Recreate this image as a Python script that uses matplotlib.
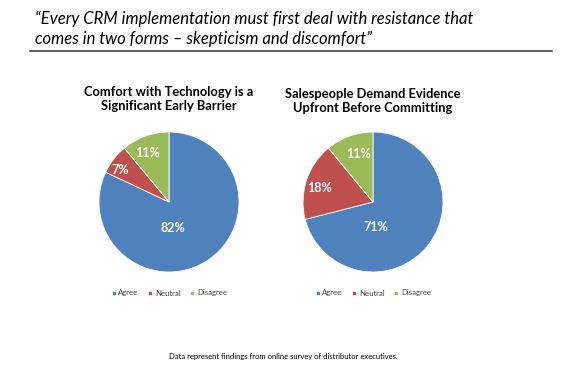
import matplotlib
matplotlib.use("Agg")
import matplotlib.pyplot as plt
from matplotlib.lines import Line2D

# Data
categories = ["Agree", "Neutral", "Disagree"]
comfort_values = [82, 7, 11]
evidence_values = [71, 18, 11]
colors = ["#4F81BD", "#C0504D", "#9BBB59"]

headline = "\u201cEvery CRM implementation must first deal with resistance that\ncomes in two forms \u2013 skepticism and discomfort\u201d"
title_left = "Comfort with Technology is a\nSignificant Early Barrier"
title_right = "Salespeople Demand Evidence\nUpfront Before Committing"
footer = "Data represent findings from online survey of distributor executives."

# label placement inside each pie (in pie radius units)
left_label_pos = [(0.06, -0.37), (-0.70, 0.46), (-0.30, 0.70)]
right_label_pos = [(0.04, -0.36), (-0.77, 0.20), (-0.20, 0.69)]

W, H = 562, 373
plt.rcParams["font.family"] = ["Lato", "DejaVu Sans"]
fig = plt.figure(figsize=(W / 100, H / 100), dpi=100)


def px_axes(x0, y0, w, h):
    # pixel box (top-left origin) -> figure axes
    return fig.add_axes([x0 / W, 1 - (y0 + h) / H, w / W, h / H])


def draw_pie(cx, cy, r, values, label_pos, title, title_y, legend_y):
    ax = px_axes(cx - r, cy - r, 2 * r, 2 * r)
    ax.pie(values, colors=colors, startangle=90, counterclock=False,
           wedgeprops=dict(edgecolor="white", linewidth=0.6))
    ax.set_xlim(-1, 1)
    ax.set_ylim(-1, 1)
    ax.set_aspect("equal")
    ax.axis("off")
    for v, (lx, ly) in zip(values, label_pos):
        ax.text(lx, ly, f"{v}%", color="white", fontsize=9, fontweight="bold",
                ha="center", va="center")
    fig.text(cx / W, 1 - title_y / H, title, ha="center", va="center",
             fontsize=9.3, fontweight="bold", color="black", linespacing=1.2)
    handles = [Line2D([], [], marker="s", linestyle="none", markersize=1.8,
                      markerfacecolor=c, markeredgecolor=c) for c in colors]
    fig.legend(handles, categories, loc="center", bbox_to_anchor=(cx / W, 1 - legend_y / H),
               ncol=3, frameon=False, fontsize=5.6, handletextpad=0.3,
               columnspacing=1.2, handlelength=0.6, labelcolor="#404040")


draw_pie(169, 202, 70, comfort_values, left_label_pos, title_left, 99, 293)
draw_pie(373, 202, 70, evidence_values, right_label_pos, title_right, 101, 293)

# headline and rule
fig.text(35 / W, 1 - 29 / H, headline, ha="left", va="center", fontsize=12,
         style="italic", color="black", linespacing=1.3)
fig.add_artist(Line2D([30 / W, 552 / W], [1 - 51 / H, 1 - 51 / H], color="#333333", linewidth=1.1))

fig.text(283 / W, 1 - 356 / H, footer, ha="center", va="center", fontsize=5.5, color="black")

fig.savefig("out.png", dpi=100)
